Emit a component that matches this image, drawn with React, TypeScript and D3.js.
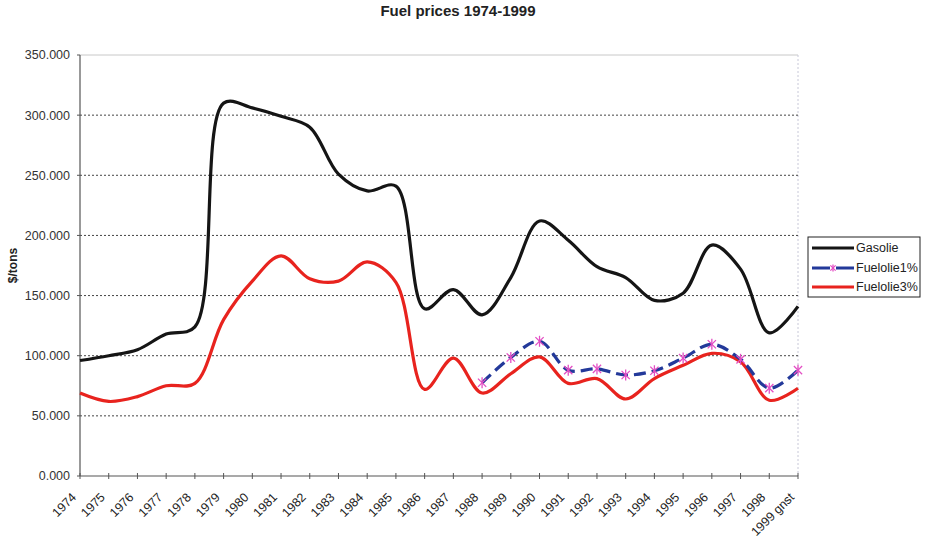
import * as React from 'react';
import * as d3 from 'd3';

const years = ['1974', '1975', '1976', '1977', '1978', '1979', '1980', '1981', '1982', '1983', '1984', '1985', '1986',
    '1987', '1988', '1989', '1990', '1991', '1992', '1993', '1994', '1995', '1996', '1997', '1998', '1999 gnst'];

const gasolie = [96, 100, 105, 118, 124, 310, 306, 299, 290, 251, 237, 241, 139,
    155, 134, 165, 212, 196, 174, 165, 146, 152, 192, 172, 119, 141];

// fuelolie 1% only starts in 1988
const fuelolie1 = [null, null, null, null, null, null, null, null, null, null, null, null, null,
    null, 77.5, 98.5, 112, 88, 89, 84, 87.5, 98, 109.5, 97, 73, 88];

const fuelolie3 = [69, 62, 66, 75, 77, 130, 162, 183, 164, 162, 178, 161, 72,
    98, 69, 85, 99, 77, 81, 64, 81, 92, 102, 95, 63, 73];

const yTicks = [0, 50, 100, 150, 200, 250, 300, 350];

const MARGINS = { top: 55, left: 80, right: 131, bottom: 76 };
const WIDTH = 929;
const HEIGHT = 552;
const FONT = '"Liberation Sans", Arial, sans-serif';

const BLACK = '#151515';
const RED = '#e8231e';
const BLUE = '#23399a';
const PINK = '#e34fc4';

function Star({ x, y, r }: { x: number; y: number; r: number }) {
    // excel style asterisk marker: x + vertical bar
    const d = r * 0.75;
    return (
        <g stroke={PINK} strokeWidth={1.3}>
            <line x1={x - d} y1={y - d} x2={x + d} y2={y + d} />
            <line x1={x - d} y1={y + d} x2={x + d} y2={y - d} />
            <line x1={x} y1={y - r} x2={x} y2={y + r} />
        </g>
    );
}

export default function App() {
    const innerW = WIDTH - MARGINS.left - MARGINS.right;
    const innerH = HEIGHT - MARGINS.top - MARGINS.bottom;

    const xScale = d3.scalePoint<string>().domain(years).range([MARGINS.left, MARGINS.left + innerW]);
    const yScale = d3.scaleLinear().domain([0, 350]).range([MARGINS.top + innerH, MARGINS.top]);

    const lineGen = d3.line<number | null>()
        .defined(d => d != null)
        .x((d, i) => xScale(years[i]) as number)
        .y(d => yScale(d as number))
        .curve(d3.curveCatmullRom.alpha(0.5));

    const fmt = (v: number) => v.toFixed(3);
    const x0 = MARGINS.left;
    const x1 = MARGINS.left + innerW;
    const y0 = MARGINS.top + innerH;

    const legendX = 808;
    const legendY = 237;

    return (
        <svg width={WIDTH} height={HEIGHT} style={{ position: 'absolute', left: 0, top: 0, background: '#fff' }}
            fontFamily={FONT}>
            <text x={458} y={16} textAnchor="middle" fontSize={15} fontWeight="bold" fill="#222">
                Fuel prices 1974-1999
            </text>

            {/* plot frame */}
            <line x1={x0} y1={MARGINS.top} x2={x1} y2={MARGINS.top} stroke="#c8c8c8" strokeWidth={1} />
            <line x1={x1} y1={MARGINS.top} x2={x1} y2={y0} stroke="#c8c8d8" strokeWidth={1} strokeDasharray="2,2" />

            {/* horizontal grid lines */}
            {yTicks.filter(t => t > 0 && t < 350).map(t => (
                <line key={'g' + t} x1={x0} x2={x1} y1={yScale(t)} y2={yScale(t)}
                    stroke="#444" strokeWidth={1} strokeDasharray="2,2" />
            ))}

            {/* y axis */}
            <line x1={x0} y1={MARGINS.top} x2={x0} y2={y0} stroke="#555" strokeWidth={1.2} />
            {yTicks.map(t => (
                <g key={'y' + t}>
                    <line x1={x0 - 3} x2={x0} y1={yScale(t)} y2={yScale(t)} stroke="#555" />
                    <text x={x0 - 10} y={yScale(t)} dy="0.35em" textAnchor="end" fontSize={12.5} fill="#333">
                        {fmt(t)}
                    </text>
                </g>
            ))}
            <text transform={`translate(17,${(MARGINS.top + y0) / 2}) rotate(-90)`} textAnchor="middle"
                fontSize={12} fontWeight="bold" fill="#222">$/tons</text>

            {/* x axis */}
            <line x1={x0} y1={y0} x2={x1} y2={y0} stroke="#555" strokeWidth={1.2} />
            {years.map(yr => {
                const x = xScale(yr) as number;
                return (
                    <g key={'x' + yr}>
                        <line x1={x} x2={x} y1={y0 - 3} y2={y0 + 3} stroke="#555" />
                        <text transform={`translate(${x - 3},${y0 + 22}) rotate(-45)`} textAnchor="end"
                            fontSize={12.5} fill="#222">{yr}</text>
                    </g>
                );
            })}

            {/* series */}
            <path d={lineGen(gasolie) || ''} fill="none" stroke={BLACK} strokeWidth={3.2} />
            <path d={lineGen(fuelolie3) || ''} fill="none" stroke={RED} strokeWidth={3.2} />
            <path d={lineGen(fuelolie1) || ''} fill="none" stroke={BLUE} strokeWidth={3.2} strokeDasharray="12,6" />
            {fuelolie1.map((v, i) => v == null ? null : (
                <Star key={'m' + i} x={xScale(years[i]) as number} y={yScale(v)} r={5.5} />
            ))}

            {/* legend */}
            <rect x={legendX} y={legendY} width={112} height={60} fill="#fff" stroke="#222" strokeWidth={1} />
            <line x1={legendX + 4} x2={legendX + 46} y1={legendY + 11} y2={legendY + 11} stroke={BLACK} strokeWidth={3} />
            <text x={legendX + 48} y={legendY + 11} dy="0.35em" fontSize={12.5} fill="#222">Gasolie</text>

            <line x1={legendX + 4} x2={legendX + 46} y1={legendY + 31} y2={legendY + 31} stroke={BLUE} strokeWidth={3}
                strokeDasharray="18,6" />
            <Star x={legendX + 25} y={legendY + 31} r={3.5} />
            <text x={legendX + 48} y={legendY + 31} dy="0.35em" fontSize={12.5} fill="#222">Fuelolie1%</text>

            <line x1={legendX + 4} x2={legendX + 46} y1={legendY + 50} y2={legendY + 50} stroke={RED} strokeWidth={3} />
            <text x={legendX + 48} y={legendY + 50} dy="0.35em" fontSize={12.5} fill="#222">Fuelolie3%</text>
        </svg>
    );
}
